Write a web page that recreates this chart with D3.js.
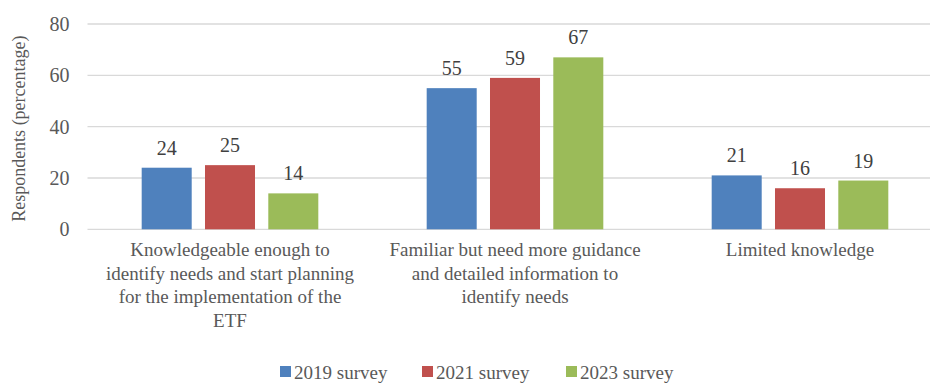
<!DOCTYPE html>
<html>
<head>
<meta charset="utf-8">
<script src="https://cdn.jsdelivr.net/npm/d3@7"></script>
<style>
  html, body { margin: 0; padding: 0; background: #fff; }
</style>
</head>
<body>
<svg id="chart" width="930" height="383" font-family="Liberation Serif, Times New Roman, serif"></svg>
<script>
// Survey responses by knowledge level
const categories = [
  "Knowledgeable enough to identify needs and start planning for the implementation of the ETF",
  "Familiar but need more guidance and detailed information to identify needs",
  "Limited knowledge"
];
const categoryLines = [
  ["Knowledgeable enough to", "identify needs and start planning", "for the implementation of the", "ETF"],
  ["Familiar but need more guidance", "and detailed information to", "identify needs"],
  ["Limited knowledge"]
];
const seriesNames = ["2019 survey", "2021 survey", "2023 survey"];
const values2019 = [24, 55, 21];
const values2021 = [25, 59, 16];
const values2023 = [14, 67, 19];
const yTicks = [0, 20, 40, 60, 80];
const colors = ["#4F81BD", "#C0504D", "#9BBB59"];

const seriesValues = [values2019, values2021, values2023];
const FONT = "Liberation Serif, Times New Roman, serif";

const svg = d3.select("#chart");
const plotLeft = 87.5, plotRight = 942.5, plotTop = 24, plotBottom = 229.3;

const x = d3.scaleBand().domain(categories).range([plotLeft, plotRight]).paddingInner(0).paddingOuter(0);
const xInner = d3.scaleBand().domain(seriesNames).range([0, x.bandwidth()]).paddingInner(0.21).paddingOuter(0.856);
const y = d3.scaleLinear().domain([0, 80]).range([plotBottom, plotTop]);

// gridlines
svg.append("g")
  .selectAll("line")
  .data(yTicks)
  .join("line")
  .attr("x1", plotLeft).attr("x2", 930)
  .attr("y1", d => y(d)).attr("y2", d => y(d))
  .attr("stroke", "#d9d9d9").attr("stroke-width", 1.3);

// y axis labels
const yAxis = d3.axisLeft(y).tickValues(yTicks).tickSize(0).tickPadding(0);
const gy = svg.append("g").attr("transform", `translate(${plotLeft - 18},0)`).call(yAxis);
gy.attr("font-family", FONT).attr("font-size", 20);
gy.select(".domain").remove();
gy.selectAll("text").attr("fill", "#595959");

// y axis title
svg.append("text")
  .attr("transform", `translate(25,${(plotTop + plotBottom) / 2 + 2}) rotate(-90)`)
  .attr("text-anchor", "middle")
  .attr("font-family", FONT)
  .attr("font-size", 18)
  .attr("fill", "#595959")
  .text("Respondents (percentage)");

// bars, one group per survey year
const groups = svg.append("g")
  .selectAll("g")
  .data(seriesNames)
  .join("g")
  .attr("fill", (d, i) => colors[i]);

groups.selectAll("rect")
  .data((s, si) => categories.map((c, ci) => ({ c, s, v: seriesValues[si][ci] })))
  .join("rect")
  .attr("x", d => x(d.c) + xInner(d.s))
  .attr("width", xInner.bandwidth())
  .attr("y", d => y(d.v))
  .attr("height", d => y(0) - y(d.v));

// value labels above the bars
groups.selectAll("text")
  .data((s, si) => categories.map((c, ci) => ({ c, s, v: seriesValues[si][ci] })))
  .join("text")
  .attr("x", d => x(d.c) + xInner(d.s) + xInner.bandwidth() / 2)
  .attr("y", d => y(d.v) - 13)
  .attr("text-anchor", "middle")
  .attr("font-family", FONT)
  .attr("font-size", 20)
  .attr("fill", "#404040")
  .text(d => d.v);

// wrapped category labels
const cat = svg.append("g")
  .selectAll("text")
  .data(categories)
  .join("text")
  .attr("text-anchor", "middle")
  .attr("font-family", FONT)
  .attr("font-size", 19)
  .attr("fill", "#595959");
cat.each(function (c, i) {
  const t = d3.select(this);
  categoryLines[i].forEach((line, li) => {
    t.append("tspan")
      .attr("x", x(c) + x.bandwidth() / 2)
      .attr("y", 256 + li * 23.5)
      .text(line);
  });
});

// legend
const legendX = [280, 422, 566];
const legend = svg.append("g")
  .selectAll("g")
  .data(seriesNames)
  .join("g")
  .attr("transform", (d, i) => `translate(${legendX[i]},366)`);
legend.append("rect")
  .attr("width", 11).attr("height", 11)
  .attr("fill", (d, i) => colors[i]);
legend.append("text")
  .attr("x", 14).attr("y", 12.5)
  .attr("font-family", FONT)
  .attr("font-size", 19)
  .attr("fill", "#595959")
  .text(d => d);
</script>
</body>
</html>
